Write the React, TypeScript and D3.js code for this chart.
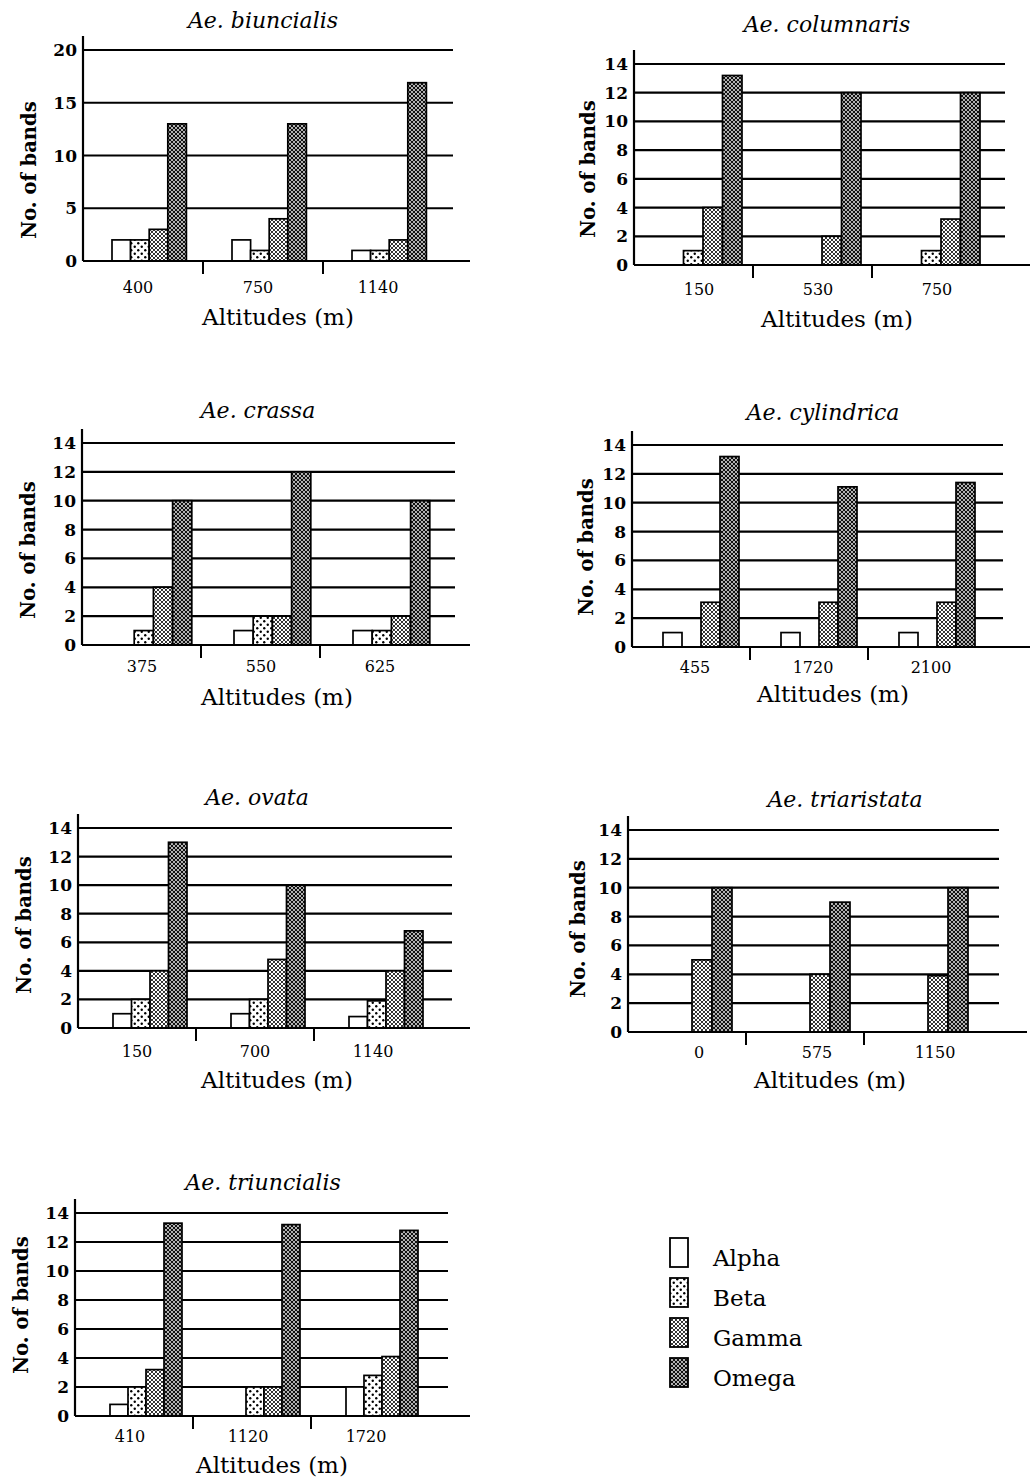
import React from "react";
import * as d3 from "d3";

// species panels and their altitudes
const species = ["Ae. biuncialis", "Ae. columnaris", "Ae. crassa", "Ae. cylindrica", "Ae. ovata", "Ae. triaristata", "Ae. triuncialis"];
const altitudes = [
  ["400", "750", "1140"],
  ["150", "530", "750"],
  ["375", "550", "625"],
  ["455", "1720", "2100"],
  ["150", "700", "1140"],
  ["0", "575", "1150"],
  ["410", "1120", "1720"],
];

// no. of bands per series (one row per species, one value per altitude)
const alpha = [[2, 2, 1], [0, 0, 0], [0, 1, 1], [1, 1, 1], [1, 1, 0.8], [0, 0, 0], [0.8, 0, 2]];
const beta = [[2, 1, 1], [1, 0, 1], [1, 2, 1], [0, 0, 0], [2, 2, 1.9], [0, 0, 0], [2, 2, 2.8]];
const gamma = [[3, 4, 2], [4, 2, 3.2], [4, 2, 2], [3.1, 3.1, 3.1], [4, 4.8, 4], [5, 4, 3.9], [3.2, 2, 4.1]];
const omega = [[13, 13, 16.9], [13.2, 12, 12], [10, 12, 10], [13.2, 11.1, 11.4], [13, 10, 6.8], [10, 9, 10], [13.3, 13.2, 12.8]];

const seriesNames = ["Alpha", "Beta", "Gamma", "Omega"];
const yMax = [20, 14, 14, 14, 14, 14, 14];
const yStep = [5, 2, 2, 2, 2, 2, 2];

// where each panel sits on the page
const frames = [
  { ax: 83, y0: 261, yTop: 50, gridEnd: 453, baseEnd: 470, bw: 120, off: 29, barW: 18.6, labOff: 55, tX: 263, tY: 28, xtY: 293, atX: 278, atY: 325, ylX: 30, ylY: 170 },
  { ax: 634, y0: 265, yTop: 64, gridEnd: 1005, baseEnd: 1030, bw: 119, off: 30, barW: 19.5, labOff: 65, tX: 827, tY: 32, xtY: 295, atX: 837, atY: 327, ylX: 589, ylY: 169 },
  { ax: 82, y0: 645, yTop: 443, gridEnd: 455, baseEnd: 470, bw: 119, off: 33, barW: 19.2, labOff: 60, tX: 258, tY: 418, xtY: 672, atX: 277, atY: 705, ylX: 29, ylY: 550 },
  { ax: 632, y0: 647, yTop: 445, gridEnd: 1003, baseEnd: 1030, bw: 118, off: 31, barW: 19, labOff: 63, tX: 823, tY: 420, xtY: 673, atX: 833, atY: 702, ylX: 587, ylY: 547 },
  { ax: 78, y0: 1028, yTop: 828, gridEnd: 452, baseEnd: 470, bw: 118, off: 35, barW: 18.5, labOff: 59, tX: 257, tY: 805, xtY: 1057, atX: 277, atY: 1088, ylX: 25, ylY: 925 },
  { ax: 628, y0: 1032, yTop: 830, gridEnd: 999, baseEnd: 1027, bw: 118, off: 24, barW: 20, labOff: 71, tX: 845, tY: 807, xtY: 1058, atX: 830, atY: 1088, ylX: 579, ylY: 929 },
  { ax: 75, y0: 1416, yTop: 1213, gridEnd: 448, baseEnd: 470, bw: 118, off: 35, barW: 18, labOff: 55, tX: 263, tY: 1190, xtY: 1442, atX: 272, atY: 1473, ylX: 22, ylY: 1305 },
];

const font = "'DejaVu Serif', serif";
const fillFor = d3.scaleOrdinal<string, string>().domain(seriesNames).range(["#fff", "url(#pBeta)", "url(#pGamma)", "url(#pOmega)"]);

function Panel({ i }: { i: number }) {
  const f = frames[i];
  const cats = altitudes[i];
  const x = d3.scaleBand<string>().domain(cats).range([f.ax, f.ax + 3 * f.bw]);
  const inner = d3.scaleBand<string>().domain(seriesNames).range([f.off, f.off + 4 * f.barW]);
  const y = d3.scaleLinear().domain([0, yMax[i]]).range([f.y0, f.yTop]);
  const ticks = d3.range(0, yMax[i] + 0.001, yStep[i]);
  const vals = [alpha[i], beta[i], gamma[i], omega[i]];

  return (
    <g>
      <text x={f.tX} y={f.tY} textAnchor="middle" fontStyle="italic" fontSize={22} fontFamily={font}>{species[i]}</text>
      {ticks.filter((t) => t > 0).map((t) => (
        <line key={t} x1={f.ax} x2={f.gridEnd} y1={y(t)} y2={y(t)} stroke="#000" strokeWidth={2.2} />
      ))}
      {ticks.map((t) => (
        <text key={"l" + t} x={f.ax - 6} y={y(t) + 6} textAnchor="end" fontSize={17} fontWeight="bold" fontFamily={font}>{t}</text>
      ))}
      {cats.map((c, ci) =>
        seriesNames.map((s, si) => {
          const v = vals[si][ci];
          if (!v) return null;
          const bx = (x(c) as number) + (inner(s) as number);
          return (
            <rect key={c + s} x={bx} y={y(v)} width={inner.bandwidth()} height={f.y0 - y(v)}
              fill={fillFor(s)} stroke="#000" strokeWidth={1.7} />
          );
        })
      )}
      <line x1={f.ax} x2={f.ax} y1={f.y0} y2={f.yTop - 14} stroke="#000" strokeWidth={2.2} />
      <line x1={f.ax} x2={f.baseEnd} y1={f.y0} y2={f.y0} stroke="#000" strokeWidth={2.2} />
      {[1, 2].map((k) => (
        <line key={k} x1={f.ax + k * f.bw} x2={f.ax + k * f.bw} y1={f.y0} y2={f.y0 + 13} stroke="#000" strokeWidth={2} />
      ))}
      {cats.map((c) => (
        <text key={"x" + c} x={(x(c) as number) + f.labOff} y={f.xtY} textAnchor="middle" fontSize={16} fontFamily={font}>{c}</text>
      ))}
      <text x={f.atX} y={f.atY} textAnchor="middle" fontSize={23} fontFamily={font}>Altitudes (m)</text>
      <text transform={`translate(${f.ylX},${f.ylY}) rotate(-90)`} textAnchor="middle" dominantBaseline="middle"
        fontSize={19.5} fontWeight="bold" fontFamily={font}>No. of bands</text>
    </g>
  );
}

export default function App() {
  const ly = d3.scaleLinear().domain([0, 3]).range([1238, 1358]);
  return (
    <svg width={1030} height={1484} style={{ position: "absolute", left: 0, top: 0, background: "#fff" }}>
      <defs>
        <pattern id="pBeta" width={7} height={7} patternUnits="userSpaceOnUse">
          <rect width={7} height={7} fill="#fff" />
          <circle cx={1.75} cy={1.75} r={1.2} fill="#000" />
          <circle cx={5.25} cy={5.25} r={1.2} fill="#000" />
        </pattern>
        <pattern id="pGamma" width={4} height={4} patternUnits="userSpaceOnUse">
          <rect width={4} height={4} fill="#fff" />
          <circle cx={0} cy={0} r={1.05} fill="#000" />
          <circle cx={4} cy={0} r={1.05} fill="#000" />
          <circle cx={0} cy={4} r={1.05} fill="#000" />
          <circle cx={4} cy={4} r={1.05} fill="#000" />
          <circle cx={2} cy={2} r={1.05} fill="#000" />
        </pattern>
        <pattern id="pOmega" width={4} height={4} patternUnits="userSpaceOnUse">
          <rect width={4} height={4} fill="#111" />
          <circle cx={0} cy={0} r={0.9} fill="#fff" />
          <circle cx={4} cy={0} r={0.9} fill="#fff" />
          <circle cx={0} cy={4} r={0.9} fill="#fff" />
          <circle cx={4} cy={4} r={0.9} fill="#fff" />
          <circle cx={2} cy={2} r={0.9} fill="#fff" />
        </pattern>
      </defs>
      {species.map((s, i) => <Panel key={s} i={i} />)}
      {seriesNames.map((s, i) => (
        <g key={s}>
          <rect x={670} y={ly(i)} width={18} height={29} fill={fillFor(s)} stroke="#000" strokeWidth={1.8} />
          <text x={713} y={ly(i) + 28} fontSize={23} fontFamily={font}>{s}</text>
        </g>
      ))}
    </svg>
  );
}
